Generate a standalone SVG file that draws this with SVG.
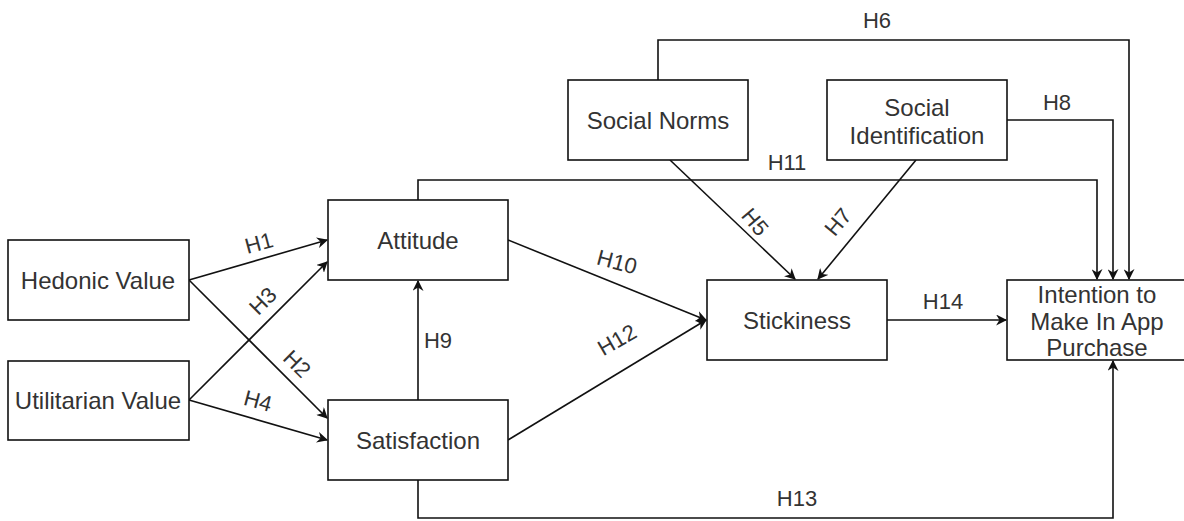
<svg xmlns="http://www.w3.org/2000/svg" width="1184" height="521" viewBox="0 0 1184 521">
<style>
.box{fill:#fff;stroke:#111;stroke-width:1.6}
.t{font-family:"Liberation Sans",Arial,sans-serif;font-size:24px;fill:#333;text-anchor:middle;dominant-baseline:central}
.e{fill:none;stroke:#111;stroke-width:1.6;marker-end:url(#a)}
.l{font-family:"Liberation Sans",Arial,sans-serif;font-size:22px;fill:#333;text-anchor:middle;dominant-baseline:central}
</style>
<defs>
<marker id="a" viewBox="0 0 10 10" refX="9" refY="5" markerWidth="11" markerHeight="11" markerUnits="userSpaceOnUse" orient="auto">
<path d="M0,0 L10,5 L0,10 L3,5 Z" fill="#111"/>
</marker>
</defs>
<rect width="1184" height="521" fill="#fff"/>
<g id="connectors">
<path class="e" d="M189,280 L327,240"/>
<path class="e" d="M189,400 L327,262"/>
<path class="e" d="M189,280 L327,418"/>
<path class="e" d="M189,400 L327,440"/>
<path class="e" d="M418,400 L418,281"/>
<path class="e" d="M508,240 L706,320"/>
<path class="e" d="M508,440 L706,320"/>
<path class="e" d="M670,160 L795,279"/>
<path class="e" d="M916,160 L818,279"/>
<path class="e" d="M887,320 L1006,320"/>
<path class="e" d="M658,80 L658,40 L1129,40 L1129,279"/>
<path class="e" d="M1007,120 L1113,120 L1113,279"/>
<path class="e" d="M418,200 L418,180 L1097,180 L1097,279"/>
<path class="e" d="M418,480 L418,518 L1113,518 L1113,361"/>
<text class="l" transform="translate(259,243) rotate(-15)">H1</text>
<text class="l" transform="translate(263,301) rotate(-45)">H3</text>
<text class="l" transform="translate(297,364) rotate(45)">H2</text>
<text class="l" transform="translate(258,401) rotate(15)">H4</text>
<text class="l" x="438" y="340">H9</text>
<text class="l" transform="translate(617,262) rotate(15)">H10</text>
<text class="l" transform="translate(617,340) rotate(-30)">H12</text>
<text class="l" transform="translate(755,222) rotate(50)">H5</text>
<text class="l" transform="translate(838,222) rotate(-50)">H7</text>
<text class="l" x="787" y="162">H11</text>
<text class="l" x="877" y="20">H6</text>
<text class="l" x="1057" y="102">H8</text>
<text class="l" x="943" y="301">H14</text>
<text class="l" x="797" y="498">H13</text>
</g>
<g id="hedonic"><rect class="box" x="8" y="240" width="181" height="80"/><text class="t" x="98" y="280">Hedonic Value</text></g>
<g id="utilitarian"><rect class="box" x="8" y="361" width="181" height="79"/><text class="t" x="98" y="400">Utilitarian Value</text></g>
<g id="attitude"><rect class="box" x="328" y="200" width="180" height="80"/><text class="t" x="418" y="240">Attitude</text></g>
<g id="satisfaction"><rect class="box" x="328" y="400" width="180" height="80"/><text class="t" x="418" y="440">Satisfaction</text></g>
<g id="socialnorms"><rect class="box" x="568" y="80" width="180" height="80"/><text class="t" x="658" y="120">Social Norms</text></g>
<g id="socialid"><rect class="box" x="827" y="80" width="180" height="80"/><text class="t" x="917" y="107">Social</text><text class="t" x="917" y="135">Identification</text></g>
<g id="stickiness"><rect class="box" x="707" y="280" width="180" height="80"/><text class="t" x="797" y="320">Stickiness</text></g>
<g id="intention"><rect class="box" x="1007" y="280" width="180" height="80"/><text class="t" x="1097" y="294">Intention to</text><text class="t" x="1097" y="321">Make In App</text><text class="t" x="1097" y="347">Purchase</text></g>
</svg>
